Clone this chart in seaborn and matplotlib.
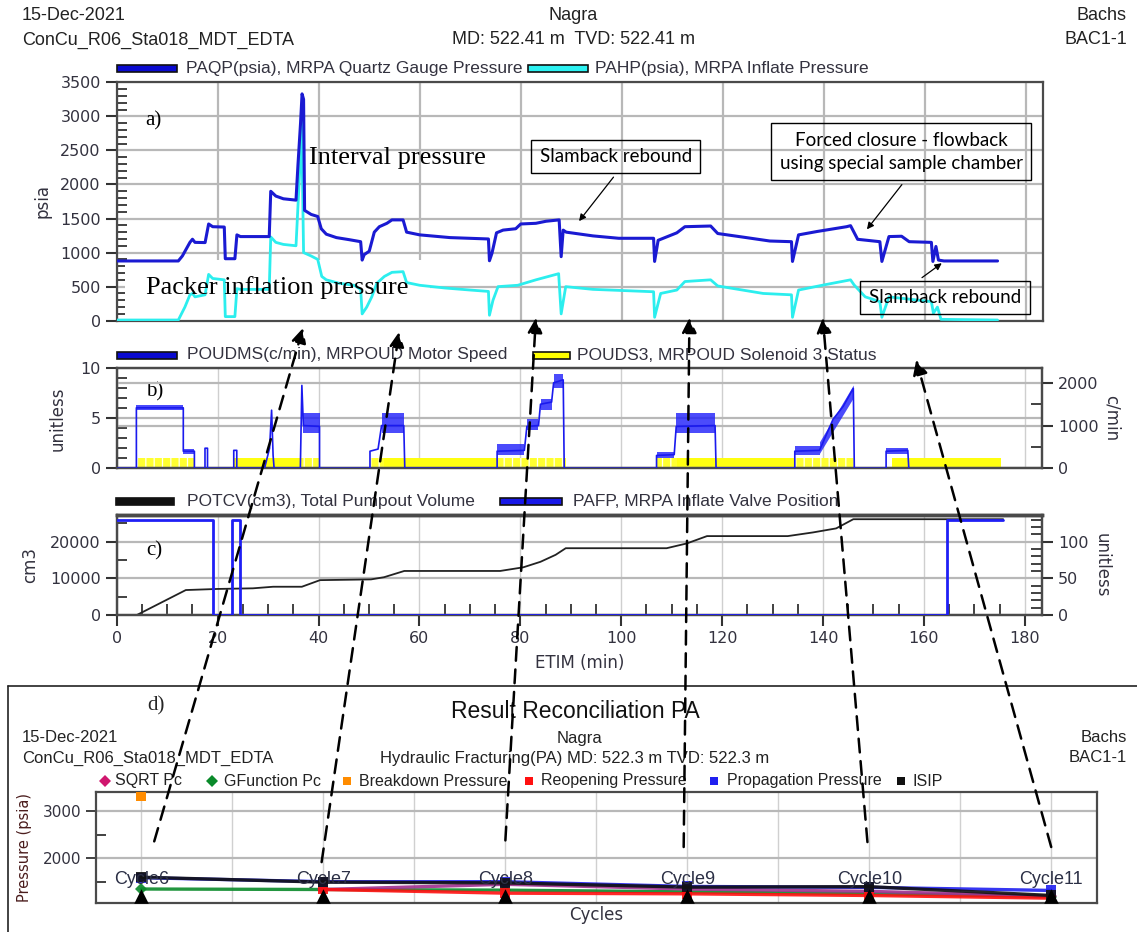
import numpy as np
import matplotlib
matplotlib.use("Agg")
import matplotlib.pyplot as plt
import seaborn as sns
from matplotlib import font_manager as fm
from matplotlib.patches import Rectangle, ConnectionPatch
from matplotlib.lines import Line2D
from matplotlib.ticker import MultipleLocator, FixedLocator

# ---------------- data ----------------
# a) interval (quartz gauge) pressure, psia, vs elapsed time (min)
PAQP_T = [0, 12.2, 13.0, 14.5, 15.0, 15.5, 17.5, 18.2, 19.0, 21.3, 21.5, 23.4, 23.8, 24.5,
          30.2, 30.5, 31.5, 33.0, 35.5, 35.9, 36.4, 36.7, 37.0, 37.2, 38.5, 39.8, 40.5,
          41.5, 43.5, 46.0, 48.3, 48.6, 49.0, 50.0, 51.0, 52.0, 53.5, 54.5, 56.7, 57.4,
          60.0, 63.0, 66.0, 73.6, 73.8, 74.3, 75.2, 76.5, 79.0, 80.0, 83.0, 85.0, 87.6,
          88.0, 88.4, 89.0, 94.3, 99.4, 106.3, 106.5, 107.2, 110.9, 112.5, 117.6, 119.0,
          124.2, 129.3, 133.6, 133.8, 135.0, 138.7, 144.5, 145.3, 146.7, 151.1, 151.5,
          152.9, 155.4, 156.9, 161.3, 161.6, 162.2, 162.7, 163.8, 174.4]
PAQP_V = [877, 877, 950, 1150, 1196, 1150, 1147, 1420, 1380, 1375, 910, 910, 1260, 1235,
          1235, 1900, 1830, 1790, 1770, 2300, 2900, 3330, 3250, 1620, 1560, 1530, 1350,
          1270, 1220, 1190, 1160, 890, 970, 1020, 1300, 1380, 1430, 1480, 1480, 1300,
          1260, 1240, 1220, 1200, 880, 990, 1290, 1330, 1350, 1420, 1430, 1460, 1480,
          940, 1330, 1300, 1245, 1210, 1210, 870, 1180, 1290, 1380, 1390, 1280,
          1225, 1170, 1160, 870, 1260, 1310, 1380, 1395, 1195, 1160, 870,
          1235, 1240, 1160, 1150, 870, 1090, 890, 877, 877]

# a) packer inflate pressure, psia
PAHP_T = [0, 12.2, 13.5, 14.5, 15.0, 15.5, 17.5, 18.2, 19.0, 21.3, 21.5, 23.4, 23.8, 24.5,
          30.2, 30.5, 31.5, 33.0, 35.5, 35.9, 36.3, 36.6, 37.0, 38.5, 39.8, 40.6, 41.5,
          44.0, 47.0, 48.3, 48.6, 49.5, 50.5, 51.5, 53.0, 54.5, 56.7, 57.4, 60.0, 65.0,
          70.0, 73.6, 73.8, 74.5, 75.5, 79.4, 83.0, 87.5, 88.0, 88.9, 94.3, 106.3, 106.5,
          107.7, 110.9, 112.5, 117.6, 119.0, 128.0, 133.6, 133.8, 135.0, 140.0, 145.3,
          146.0, 148.2, 151.1, 151.5, 152.9, 161.3, 161.7, 162.5, 163.2, 174.4]
PAHP_V = [10, 10, 200, 380, 400, 350, 380, 680, 620, 600, 60, 60, 470, 460,
          460, 1230, 1150, 1120, 1100, 1700, 2300, 2980, 1000, 950, 900, 650, 600,
          550, 520, 460, 100, 200, 350, 550, 650, 710, 720, 560, 520, 480,
          450, 430, 80, 300, 500, 520, 600, 690, 100, 500, 460, 425, 50,
          400, 450, 575, 600, 510, 400, 380, 50, 450, 525, 600,
          525, 350, 280, 50, 350, 280, 110, 200, 20, 10]

# b) pump-out motor speed, c/min
MS_T = [0, 3.9, 3.9, 13.2, 13.2, 15.4, 15.4, 17.5, 17.5, 18.0, 18.0, 23.2, 23.2, 23.8, 23.8,
        29.3, 30.3, 30.7, 31.0, 31.2, 36.4, 36.7, 37.0, 40.2, 40.2, 50.2, 50.2, 51.8,
        52.5, 56.9, 57.1, 75.4, 75.4, 80.8, 81.3, 83.6, 84.0, 86.2, 86.6, 88.5, 88.7,
        107.0, 107.0, 110.5, 110.9, 118.6, 118.8, 134.4, 134.4, 139.3, 142.0, 144.0,
        146.0, 146.2, 152.5, 152.5, 156.8, 157.0]
MS_V = [0, 0, 1415, 1415, 400, 400, 0, 0, 470, 470, 0, 0, 420, 420, 0,
        0, 470, 1360, 300, 0, 0, 1940, 1000, 980, 0, 0, 400, 450,
        1000, 1000, 0, 0, 400, 420, 980, 1000, 1500, 1550, 2000, 2070, 0,
        0, 300, 320, 980, 1000, 0, 0, 400, 420, 1150, 1450,
        1870, 0, 0, 400, 420, 0]
# spread of the motor-speed reading: start, end, low/high at start, low/high at end
MS_SPREAD = [(3.9, 13.2, 1360, 1475, 1360, 1475),
             (13.2, 15.4, 330, 450, 330, 450),
             (37.0, 40.2, 820, 1290, 820, 1290),
             (52.5, 56.9, 820, 1290, 820, 1290),
             (75.4, 80.8, 300, 560, 300, 560),
             (81.3, 83.6, 890, 1150, 890, 1150),
             (84.0, 86.2, 1360, 1620, 1360, 1620),
             (86.6, 88.5, 1870, 2200, 1870, 2200),
             (107.0, 110.5, 250, 380, 250, 380),
             (110.9, 118.6, 820, 1290, 820, 1290),
             (134.4, 139.3, 300, 520, 300, 520),
             (139.3, 146.0, 350, 620, 1650, 1950),
             (152.5, 156.8, 330, 470, 330, 470)]

# b) solenoid 3 status (0/1): steady-on and toggling intervals
SOL_ON = [(23.3, 36.5), (53.0, 75.4), (111.0, 134.4), (153.7, 175.3)]
SOL_TOGGLING = [(3.9, 15.4), (36.5, 40.2), (50.2, 53.0), (75.4, 89.0), (107.0, 111.0),
                (134.4, 146.2)]

# c) total pump-out volume, cm3
POTCV_T = [4.0, 13.7, 20.0, 27.0, 31.0, 36.7, 40.3, 50.4, 53.0, 57.0, 76.0, 80.6, 84.0,
           87.0, 89.0, 109.0, 113.0, 117.0, 133.0, 138.0, 142.6, 146.0, 175.7]
POTCV_V = [0, 6800, 7100, 7270, 7700, 7700, 9500, 9700, 10300, 12000, 12000, 13000, 14500,
           16400, 18200, 18200, 19500, 21500, 21500, 22500, 23600, 26100, 26100]

# c) inflate valve position, unitless
PAFP_T = [0, 19.1, 19.1, 22.8, 22.8, 24.5, 24.5, 164.6, 164.6, 175.7]
PAFP_V = [130, 130, 0, 0, 130, 130, 0, 0, 130, 130]

# d) result reconciliation per cycle, psia
CYCLES = ["Cycle6", "Cycle7", "Cycle8", "Cycle9", "Cycle10", "Cycle11"]
CYCLE_NO = [6, 7, 8, 9, 10, 11]
SQRT_PC = [np.nan, 1340, 1450, 1350, 1300, 1200]
GFUNC_PC = [1350, 1340, 1326, 1290, 1250, 1190]
BREAKDOWN = [3330, np.nan, np.nan, np.nan, np.nan, np.nan]
REOPENING = [np.nan, 1340, 1262, 1248, 1213, 1156]
PROPAGATION = [1590, 1505, 1505, 1405, 1385, 1320]
ISIP = [1600, 1496, 1480, 1390, 1400, 1213]
CYCLE_FLAG = [1200, 1200, 1200, 1200, 1200, 1200]

# ---------------- style ----------------
sns.set_theme(style="white")
names = {f.name for f in fm.fontManager.ttflist}
NARROW = "Liberation Sans Narrow" if "Liberation Sans Narrow" in names else "Liberation Sans"
plt.rcParams["font.family"] = ["DejaVu Sans"]
plt.rcParams["hatch.linewidth"] = 0.9
SERIF = "Liberation Serif"
TXT = "#33323f"
GRID = "#b8b8b8"

W, H = 1137, 932
fig = plt.figure(figsize=(W / 100, H / 100), dpi=100)
fig.patch.set_facecolor("white")


def fx(px):
    return px / W


def fy(py):
    return 1 - py / H


def add_ax(left, top, right, bottom):
    return fig.add_axes([fx(left), fy(bottom), (right - left) / W, (bottom - top) / H])


def style_spines(ax, color="#4a4a4a", lw=1.6):
    for s in ax.spines.values():
        s.set_color(color)
        s.set_linewidth(lw)


def key(x0, x1, py, face, label, tx, edge="#111111", size=12.5):
    fig.patches.append(Rectangle((fx(x0), fy(py + 3.5)), (x1 - x0) / W, 7 / H,
                                 transform=fig.transFigure, facecolor=face,
                                 edgecolor=edge, lw=1.2))
    fig.text(fx(tx), fy(py), label, ha="left", va="center", family=NARROW,
             fontsize=size, color=TXT)


XMAX = 183.4

# ---------------- header ----------------
hdr = dict(family=NARROW, fontsize=13, color="#222222", va="center")
fig.text(fx(22), fy(15), "15-Dec-2021", ha="left", **hdr)
fig.text(fx(573), fy(15), "Nagra", ha="center", **hdr)
fig.text(fx(1127), fy(15), "Bachs", ha="right", **hdr)
fig.text(fx(22), fy(40), "ConCu_R06_Sta018_MDT_EDTA", ha="left", **hdr)
fig.text(fx(573), fy(40), "MD: 522.41 m  TVD: 522.41 m", ha="center", **hdr)
fig.text(fx(1127), fy(40), "BAC1-1", ha="right", **hdr)

# ---------------- a) pressures ----------------
ax_a = add_ax(116.7, 82.3, 1043, 320.7)
ax_a.set_axisbelow(True)
ax_a.add_patch(Rectangle((1.6, 0), 60.5, 890, facecolor="white", edgecolor="none", zorder=1))
sns.lineplot(x=PAHP_T, y=PAHP_V, ax=ax_a, color="#2ceeee", lw=2.0, sort=False,
             estimator=None, zorder=3)
sns.lineplot(x=PAQP_T, y=PAQP_V, ax=ax_a, color="#1a1ad2", lw=2.2, sort=False,
             estimator=None, zorder=4)
ax_a.set_xlim(0, XMAX)
ax_a.set_ylim(0, 3500)
ax_a.xaxis.set_major_locator(MultipleLocator(20))
ax_a.yaxis.set_major_locator(MultipleLocator(500))
ax_a.yaxis.set_minor_locator(MultipleLocator(100))
ax_a.grid(True, which="major", color=GRID, lw=1.6)
ax_a.tick_params(axis="x", bottom=False, labelbottom=False)
ax_a.tick_params(axis="y", which="major", direction="out", length=8, width=1.5,
                 colors="#333333", labelsize=11.5, labelcolor=TXT, left=True)
ax_a.tick_params(axis="y", which="minor", direction="in", length=7, width=1.3,
                 colors="#333333", left=True)
ax_a.set_ylabel("psia", fontsize=12, color=TXT, labelpad=6)
ax_a.set_xlabel("")
style_spines(ax_a)
ax_a.text(5.6, 2930, "a)", family=SERIF, fontsize=15, va="center", color="black")
ax_a.text(38.1, 2386, "Interval pressure", family=SERIF, fontsize=19, va="center",
          color="black", zorder=6)
ax_a.text(5.8, 480, "Packer inflation pressure", family=SERIF, fontsize=19, va="center",
          color="black", zorder=6)

box = dict(boxstyle="square,pad=0.45", facecolor="none", edgecolor="black", lw=1.0)
note = dict(family="Lato", fontsize=13.5, color="black", va="center", zorder=6)
ax_a.text(98.8, 2410, "Slamback rebound", ha="center", bbox=box, **note)
ax_a.text(155.3, 2480, "Forced closure - flowback\nusing special sample chamber",
          ha="center", linespacing=1.45, bbox=box, **note)
ax_a.text(164.0, 340, "Slamback rebound", ha="center", bbox=box, **note)
arw = dict(arrowstyle="-|>", color="black", lw=0.9, mutation_scale=10)
ax_a.annotate("", xy=(91.2, 1430), xytext=(98.7, 2140), arrowprops=arw)
ax_a.annotate("", xy=(148.2, 1309), xytext=(155.8, 2030), arrowprops=arw)
ax_a.annotate("", xy=(163.8, 868), xytext=(159.0, 608), arrowprops=arw)

key(117, 177, 68, "#0a0ad0", "PAQP(psia), MRPA Quartz Gauge Pressure", 186)
key(528, 588, 68, "#2cf2f2", "PAHP(psia), MRPA Inflate Pressure", 595)

# ---------------- b) motor speed / solenoid ----------------
ax_b = add_ax(116.7, 368.3, 1042, 468.3)
ax_b.set_axisbelow(True)
for t0, t1 in SOL_ON:
    ax_b.fill_between([t0, t1], [0, 0], [1, 1], facecolor="#ffff10", lw=0, zorder=2)
for t0, t1 in SOL_TOGGLING:
    ax_b.fill_between([t0, t1], [0, 0], [1, 1], facecolor="#ffff30", edgecolor="#fffff0",
                      hatch="||", lw=0, zorder=2)
ax_b.set_xlim(0, XMAX)
ax_b.set_ylim(0, 10)
ax_b.xaxis.set_major_locator(MultipleLocator(20))
ax_b.yaxis.set_major_locator(MultipleLocator(5))
ax_b.yaxis.set_minor_locator(MultipleLocator(1))
ax_b.grid(True, axis="x", color="#cfcfcf", lw=1.0)
ax_b.grid(True, axis="y", which="major", color=GRID, lw=1.6)
ax_b.tick_params(axis="x", bottom=False, labelbottom=False)
ax_b.tick_params(axis="y", which="major", direction="out", length=8, width=1.5,
                 colors="#333333", labelsize=11.5, labelcolor=TXT, left=True)
ax_b.tick_params(axis="y", which="minor", direction="in", length=7, width=1.3,
                 colors="#333333", left=True)
ax_b.set_ylabel("unitless", fontsize=12, color=TXT, labelpad=10)
style_spines(ax_b)

ax_b2 = ax_b.twinx()
ax_b2.set_axisbelow(True)
for t0, t1, lo0, hi0, lo1, hi1 in MS_SPREAD:
    ax_b2.fill_between([t0, t1], [lo0, lo1], [hi0, hi1], color="#1e1efa", alpha=0.8,
                       lw=0, zorder=3)
sns.lineplot(x=MS_T, y=MS_V, ax=ax_b2, color="#1a1aee", lw=1.2, sort=False,
             estimator=None, zorder=4)
ax_b2.set_xlim(0, XMAX)
ax_b2.set_ylim(0, 2340)
ax_b2.yaxis.set_major_locator(MultipleLocator(1000))
ax_b2.yaxis.set_minor_locator(MultipleLocator(500))
ax_b2.grid(True, axis="y", which="major", color=GRID, lw=1.6)
ax_b2.tick_params(axis="y", which="major", direction="out", length=8, width=1.5,
                  colors="#333333", labelsize=11.5, labelcolor=TXT, right=True)
ax_b2.tick_params(axis="y", which="minor", direction="in", length=8, width=1.3,
                  colors="#333333", right=True)
ax_b2.set_ylabel("c/min", fontsize=12, color=TXT, rotation=270, labelpad=16)
style_spines(ax_b2)
ax_b.text(5.8, 7.6, "b)", family=SERIF, fontsize=15, va="center", color="black")
key(117, 177, 355, "#0a0ad0", "POUDMS(c/min), MRPOUD Motor Speed", 187)
key(533, 570, 355, "#ffff00", "POUDS3, MRPOUD Solenoid 3 Status", 577)

# ---------------- c) pump-out volume / valve position ----------------
ax_c = add_ax(116.7, 515, 1042, 615)
ax_c.set_axisbelow(True)
sns.lineplot(x=POTCV_T, y=POTCV_V, ax=ax_c, color="#222222", lw=1.3, sort=False,
             estimator=None, zorder=3)
ax_c.set_xlim(0, XMAX)
ax_c.set_ylim(0, 27250)
ax_c.xaxis.set_major_locator(MultipleLocator(20))
ax_c.xaxis.set_minor_locator(MultipleLocator(5))
ax_c.yaxis.set_major_locator(MultipleLocator(10000))
ax_c.yaxis.set_minor_locator(MultipleLocator(5000))
ax_c.grid(True, axis="x", color="#cfcfcf", lw=1.0)
ax_c.grid(True, axis="y", which="major", color=GRID, lw=1.6)
ax_c.tick_params(axis="x", which="major", direction="out", length=8, width=1.5,
                 colors="#333333", labelsize=11.5, labelcolor=TXT, bottom=True)
ax_c.tick_params(axis="x", which="minor", direction="in", length=8, width=1.3,
                 colors="#333333", bottom=True)
ax_c.tick_params(axis="y", which="major", direction="out", length=8, width=1.5,
                 colors="#333333", labelsize=11.5, labelcolor=TXT, left=True)
ax_c.tick_params(axis="y", which="minor", direction="in", length=7, width=1.3,
                 colors="#333333", left=True)
ax_c.set_ylabel("cm3", fontsize=12, color=TXT, labelpad=8)
ax_c.set_xlabel("ETIM (min)", fontsize=12, color=TXT, labelpad=6)
style_spines(ax_c)
ax_c.spines["top"].set_linewidth(2.5)

ax_c2 = ax_c.twinx()
sns.lineplot(x=PAFP_T, y=PAFP_V, ax=ax_c2, color="#1f1ff5", lw=2.0, sort=False,
             estimator=None, zorder=4)
ax_c2.set_xlim(0, XMAX)
ax_c2.set_ylim(0, 136.25)
ax_c2.yaxis.set_major_locator(MultipleLocator(50))
ax_c2.yaxis.set_minor_locator(MultipleLocator(10))
ax_c2.tick_params(axis="y", which="major", direction="out", length=8, width=1.5,
                  colors="#333333", labelsize=11.5, labelcolor=TXT, right=True)
ax_c2.tick_params(axis="y", which="minor", direction="in", length=8, width=1.3,
                  colors="#333333", right=True)
ax_c2.set_ylabel("unitless", fontsize=12, color=TXT, rotation=270, labelpad=16)
style_spines(ax_c2)
ax_c2.spines["top"].set_linewidth(2.5)
ax_c.text(5.8, 17500, "c)", family=SERIF, fontsize=15, va="center", color="black")
key(116, 174, 501, "#111111", "POTCV(cm3), Total Pumpout Volume", 187)
key(500, 562, 501, "#1818e8", "PAFP, MRPA Inflate Valve Position", 573)

# ---------------- d) result reconciliation ----------------
fig.add_artist(Line2D([fx(8), 1], [fy(686), fy(686)], transform=fig.transFigure,
                      color="#222222", lw=1.2))
fig.add_artist(Line2D([fx(8), fx(8)], [fy(686), 0], transform=fig.transFigure,
                      color="#222222", lw=1.2))
fig.text(fx(575), fy(712), "Result Reconciliation PA", ha="center", va="center",
         family="Liberation Sans", fontsize=16.5, color="#111111")
fig.text(fx(147), fy(706), "d)", family=SERIF, fontsize=15, ha="left", va="center")
hd = dict(family=NARROW, fontsize=12, color="#222222", va="center")
fig.text(fx(22), fy(738), "15-Dec-2021", ha="left", **hd)
fig.text(fx(580), fy(738), "Nagra", ha="center", **hd)
fig.text(fx(1127), fy(738), "Bachs", ha="right", **hd)
fig.text(fx(22), fy(758), "ConCu_R06_Sta018_MDT_EDTA", ha="left", **hd)
fig.text(fx(575), fy(758), "Hydraulic Fracturing(PA) MD: 522.3 m TVD: 522.3 m",
         ha="center", **hd)
fig.text(fx(1127), fy(758), "BAC1-1", ha="right", **hd)

ax_d = add_ax(96, 792.3, 1096.7, 902.7)
ax_d.set_axisbelow(True)
series = [("GFunction Pc", GFUNC_PC, "#0a8a2a", "D"),
          ("SQRT Pc", SQRT_PC, "#a03090", "D"),
          ("Reopening Pressure", REOPENING, "#ff1010", "s"),
          ("Propagation Pressure", PROPAGATION, "#2020f0", "s"),
          ("ISIP", ISIP, "#111111", "s")]
for name, vals, col, mk in series:
    sns.lineplot(x=CYCLE_NO, y=vals, ax=ax_d, color=col, lw=2.4, marker=mk,
                 markersize=6 if mk == "D" else 7, markeredgewidth=0, sort=False,
                 estimator=None, alpha=0.9, zorder=3)
sns.scatterplot(x=CYCLE_NO, y=BREAKDOWN, ax=ax_d, color="#ff8c00", marker="s", s=50,
                linewidth=0, zorder=4)
sns.scatterplot(x=CYCLE_NO, y=CYCLE_FLAG, ax=ax_d, color="black", marker="^", s=110,
                linewidth=0, zorder=5)
for c, lab in zip(CYCLE_NO, CYCLES):
    ax_d.text(c, 1545, lab, ha="center", va="center", family="Liberation Sans",
              fontsize=13, color="#2b2f45", zorder=6)
ax_d.set_xlim(5.75, 11.25)
ax_d.set_ylim(1060, 3400)
ax_d.xaxis.set_major_locator(MultipleLocator(0.5))
ax_d.yaxis.set_major_locator(FixedLocator([2000, 3000]))
ax_d.yaxis.set_minor_locator(FixedLocator([1500, 2500]))
ax_d.grid(True, axis="x", color="#d0d0d0", lw=1.0)
ax_d.grid(True, axis="y", which="major", color=GRID, lw=1.6)
ax_d.tick_params(axis="x", bottom=False, labelbottom=False)
ax_d.tick_params(axis="y", which="major", direction="out", length=7, width=1.3,
                 colors="#333333", labelsize=11, labelcolor=TXT, left=True)
ax_d.tick_params(axis="y", which="minor", direction="in", length=7, width=1.3,
                 colors="#333333", left=True)
ax_d.set_ylabel("Pressure (psia)", fontsize=10.5, color="#4a1c1c", labelpad=8)
ax_d.set_xlabel("")
style_spines(ax_d)
fig.text(fx(596), fy(915), "Cycles", ha="center", va="center", fontsize=12, color=TXT)

# legend row of the reconciliation chart: marker x, text x (pixels)
leg_items = [("SQRT Pc", "#d0166e", "D", 105, 115),
             ("GFunction Pc", "#0a8a2a", "D", 212, 224),
             ("Breakdown Pressure", "#ff8c00", "s", 347, 359),
             ("Reopening Pressure", "#ff1010", "s", 529, 541),
             ("Propagation Pressure", "#2020f0", "s", 714, 727),
             ("ISIP", "#111111", "s", 901, 912)]
for lab, col, mk, mx, tx in leg_items:
    fig.add_artist(Line2D([fx(mx)], [fy(781)], transform=fig.transFigure, ls="none",
                          marker=mk, color=col, markersize=6, markeredgewidth=0))
    fig.text(fx(tx), fy(781), lab, ha="left", va="center", family=NARROW, fontsize=11.5,
             color="#222222")

# ---------------- dashed links: cycle result -> time of the cycle ----------------
links = [((6.07, 2360), (36.9, -107)), ((6.99, 1920), (55.9, -166)),
         ((8.0, 2380), (83.0, 40)), ((8.98, 2240), (113.4, 40)),
         ((9.99, 2345), (139.8, 40)), ((11.0, 2240), (158.3, -576))]
for tail, head in links:
    cp = ConnectionPatch(xyA=tail, coordsA=ax_d.transData, xyB=head, coordsB=ax_a.transData,
                         arrowstyle="-|>", linestyle=(0, (5.5, 3.5)), lw=1.8, color="black",
                         mutation_scale=22, zorder=10)
    fig.add_artist(cp)

fig.savefig("out.png", dpi=100, facecolor="white")
